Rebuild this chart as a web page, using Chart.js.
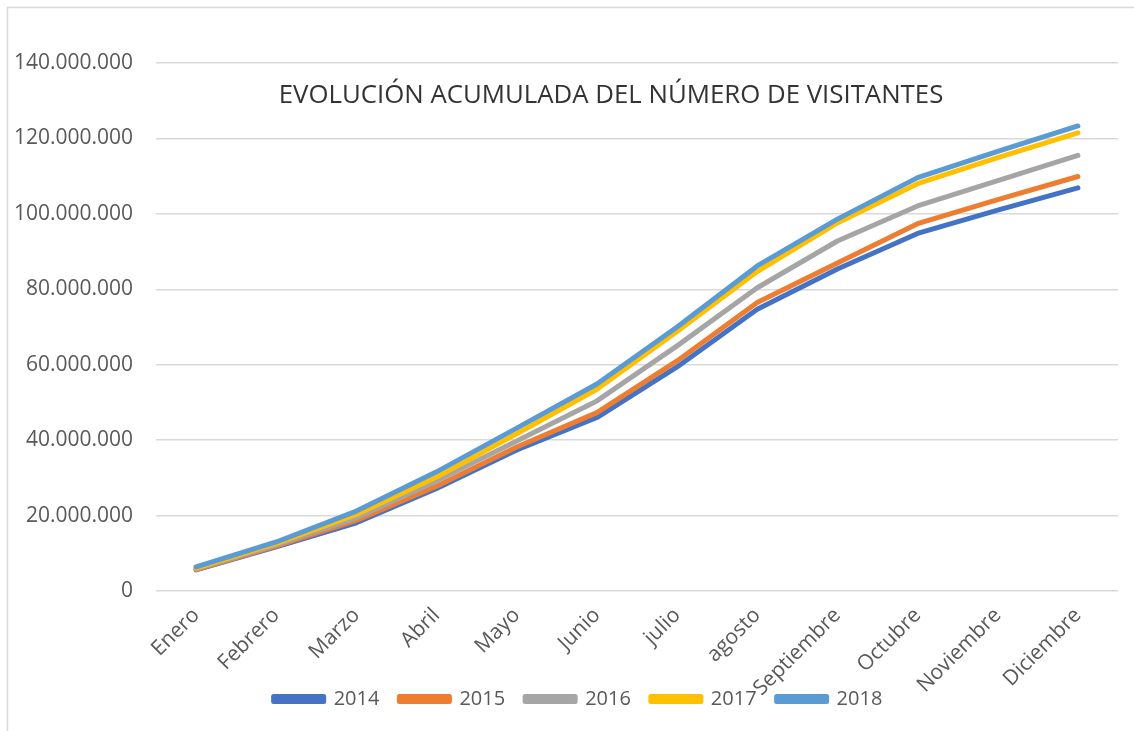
<!DOCTYPE html>
<html>
<head>
<meta charset="utf-8">
<script src="https://cdn.jsdelivr.net/npm/chart.js@4.4.1/dist/chart.umd.min.js"></script>
<style>
    html, body { margin: 0; padding: 0; background: #fff; }
    #wrap { position: relative; width: 1134px; height: 731px; }
</style>
</head>
<body>
<div id="wrap"><canvas id="grafico"></canvas></div>
<script>
// datos (millones de visitantes, acumulado)
const meses = ["Enero", "Febrero", "Marzo", "Abril", "Mayo", "Junio", "julio", "agosto", "Septiembre", "Octubre", "Noviembre", "Diciembre"];
const anios = ["2014", "2015", "2016", "2017", "2018"];
const v2014 = [5.6, 11.7, 18.1, 27.2, 37.4, 46.0, 59.4, 74.7, 85.4, 94.8, 101.0, 106.9];
const v2015 = [5.7, 11.9, 18.7, 27.8, 38.2, 47.3, 61.0, 76.5, 87.0, 97.4, 103.8, 109.9];
const v2016 = [5.9, 12.2, 19.4, 29.2, 39.8, 50.4, 65.0, 80.4, 92.8, 102.1, 108.8, 115.5];
const v2017 = [6.1, 12.6, 20.3, 30.2, 41.7, 53.5, 68.8, 84.7, 97.6, 108.0, 114.9, 121.5];
const v2018 = [6.4, 13.0, 21.2, 31.6, 43.2, 54.9, 70.0, 86.2, 98.6, 109.6, 116.6, 123.3];
const colores = ["#4472C4", "#ED7D31", "#A5A5A5", "#FFC000", "#5B9BD5"];
const titulo = "EVOLUCIÓN ACUMULADA DEL NÚMERO DE VISITANTES";

const series = [v2014, v2015, v2016, v2017, v2018];
const gris = "#595959";
const fuente = "'Open Sans', sans-serif";

function formatear(v) {
    return Math.round(v).toString().replace(/\B(?=(\d{3})+(?!\d))/g, ".");
}

// marco, título y ajustes de leyenda / etiquetas
const extras = {
    id: "extras",
    afterLayout(chart) {
        const l = chart.legend;
        l.left += 19;
        l.right += 19;
        // las etiquetas del eje x se pueden salir por debajo (como en Excel)
        chart.scales.x.bottom = chart.height;
    },
    beforeDraw(chart) {
        const c = chart.ctx;
        c.save();
        c.strokeStyle = "#d9d9d9";
        c.lineWidth = 1.5;
        c.beginPath();
        c.moveTo(7.5, 740);
        c.lineTo(7.5, 7.5);
        c.lineTo(1140, 7.5);
        c.stroke();
        c.restore();
    },
    afterDatasetsDraw(chart) {
        const c = chart.ctx;
        c.save();
        c.fillStyle = "#333333";
        c.font = "25.8px " + fuente;
        c.textAlign = "center";
        c.textBaseline = "middle";
        c.fillText(titulo, 611, 96);
        c.restore();
    }
};

const ctx = document.getElementById("grafico").getContext("2d");
new Chart(ctx, {
    type: "line",
    data: {
        labels: meses,
        datasets: anios.map((a, i) => ({
            label: a,
            data: series[i].map(v => v * 1e6),
            borderColor: colores[i],
            backgroundColor: colores[i],
            borderWidth: 5,
            borderCapStyle: "round",
            borderJoinStyle: "round",
            pointRadius: 0,
            tension: 0,
            order: anios.length - i
        }))
    },
    options: {
        responsive: true,
        maintainAspectRatio: false,
        animation: false,
        layout: { padding: { top: 63, bottom: 12, left: 0, right: 16 } },
        plugins: {
            title: { display: false },
            tooltip: { enabled: false },
            legend: {
                position: "bottom",
                labels: {
                    font: { family: fuente, size: 20 },
                    color: gris,
                    boxWidth: 50,
                    boxHeight: 5,
                    padding: 20,
                    sort: (a, b) => a.datasetIndex - b.datasetIndex
                }
            }
        },
        scales: {
            x: {
                offset: true,
                grid: { display: false },
                border: { display: false },
                ticks: {
                    color: gris,
                    font: { family: fuente, size: 21 },
                    minRotation: 45,
                    maxRotation: 45,
                    autoSkip: false,
                    padding: 4
                },
                afterFit: s => { s.height = 78; }
            },
            y: {
                min: 0,
                max: 140000000,
                grid: { color: "#d9d9d9", lineWidth: 1.5, drawTicks: false },
                border: { display: false },
                ticks: {
                    stepSize: 20000000,
                    color: gris,
                    font: { family: fuente, size: 21 },
                    padding: 23,
                    callback: v => formatear(v)
                },
                afterFit: s => { s.width = 156; }
            }
        }
    },
    plugins: [extras]
});
</script>
</body>
</html>
